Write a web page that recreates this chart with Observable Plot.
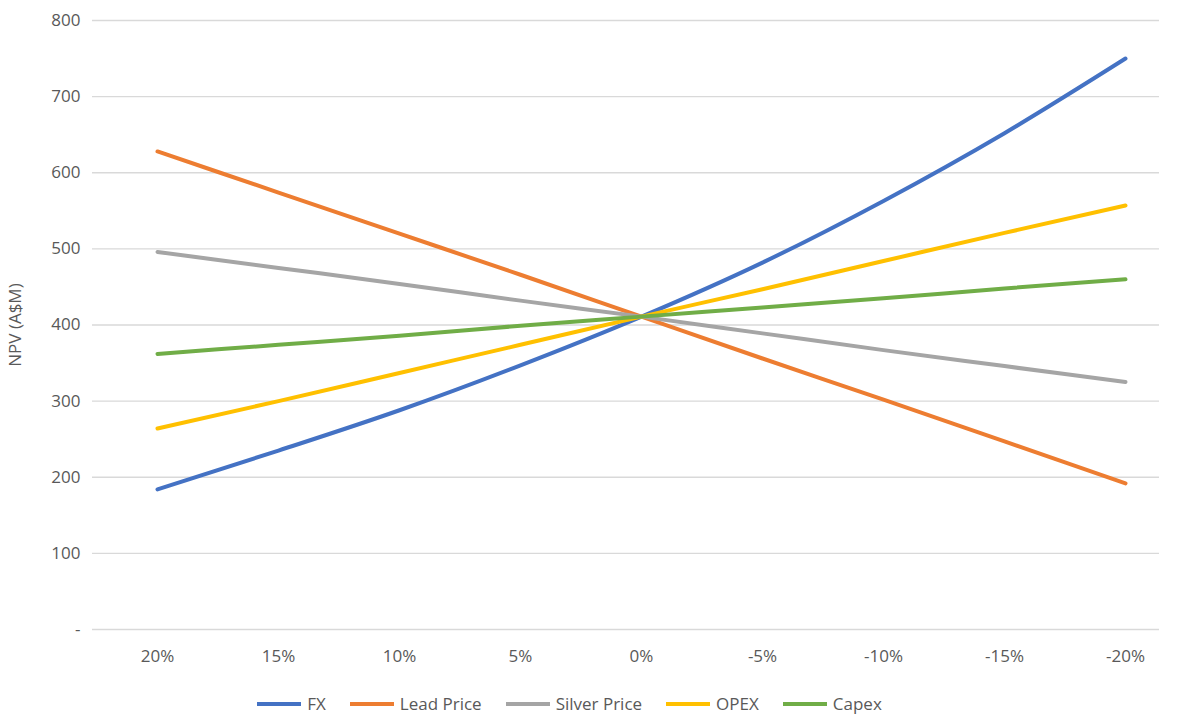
<!DOCTYPE html>
<html><head><meta charset="utf-8">
<script src="https://cdn.jsdelivr.net/npm/d3@7"></script>
<script src="https://cdn.jsdelivr.net/npm/@observablehq/plot@0.6"></script>
<style>
body{margin:0;background:#fff;font-family:"Open Sans",sans-serif;color:#595959}
#legend{display:flex;justify-content:center;gap:24px;font-size:17px;margin-top:12px;margin-right:40px}
#legend span{display:flex;align-items:center;gap:6px}
#legend i{display:inline-block;width:44px;height:4px}
</style></head><body>
<div id="chart"></div>
<div id="legend"></div>
<script>
const changes = ["20%","15%","10%","5%","0%","-5%","-10%","-15%","-20%"]
const fx = [184,235,288,347,411,482,563,652,750]
const lead = [628,574,520,466,411,356,302,247,192]
const silver = [496,475,454,432,411,389,367,346,325]
const opex = [264,300,337,374,411,447,484,521,557]
const capex = [362,374,386,399,411,423,435,448,460]
const names = ["FX","Lead Price","Silver Price","OPEX","Capex"]
const colors = ["#4472C4","#ED7D31","#A5A5A5","#FFC000","#70AD47"]

let series = [fx, lead, silver, opex, capex]
let data = []
series.forEach((s, i) => s.forEach((v, j) => data.push({name: names[i], change: changes[j], npv: v})))

let chart = Plot.plot({
  width: 1179, height: 680,
  marginLeft: 92, marginRight: 20, marginTop: 20, marginBottom: 51,
  style: {fontFamily: "Open Sans", fontSize: "17px", color: "#595959"},
  x: {type: "point", domain: changes, range: [155, 1127], padding: 0, label: null, tickSize: 0, tickPadding: 20},
  y: {domain: [0, 800], ticks: d3.range(0, 801, 100), label: "NPV (A$M)", labelAnchor: "center", labelArrow: "none",
      tickFormat: d => d === 0 ? "-" : d, tickSize: 0, tickPadding: 12, labelOffset: 84},
  color: {domain: names, range: colors},
  marks: [
    Plot.gridY(d3.range(100, 801, 100), {stroke: "#d9d9d9", strokeOpacity: 1, strokeWidth: 1.3}),
    Plot.ruleY([0], {stroke: "#d9d9d9", strokeWidth: 1.3}),
    Plot.line(data, {x: "change", y: "npv", z: "name", stroke: "name", strokeWidth: 4, curve: "monotone-x"})
  ]
})
d3.select('#chart').append(() => chart)

d3.select('#legend').selectAll('span').data(names).join('span')
  .html((d, i) => `<i style="background:${colors[i]}"></i>${d}`)
</script>
</body></html>
